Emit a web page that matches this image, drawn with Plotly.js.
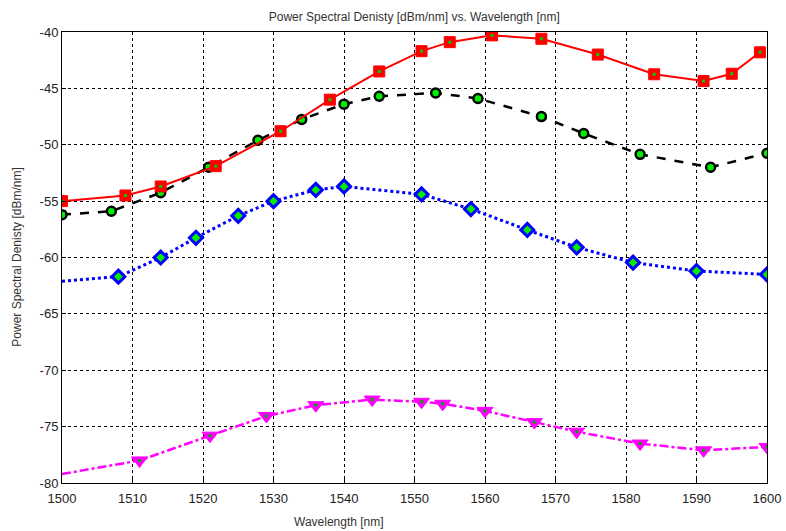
<!DOCTYPE html>
<html>
<head>
<meta charset="utf-8">
<script src="https://cdn.plot.ly/plotly-3.0.1.min.js"></script>
<style>html,body{margin:0;padding:0;background:#fff;}#chart{width:786px;height:531px;}</style>
</head>
<body>
<div id="chart"></div>
<script>
// Series: red squares (solid)
const redX = [1500, 1509, 1514, 1521.8, 1531, 1538, 1545, 1551, 1555, 1561, 1568, 1576, 1584, 1591, 1595, 1599];
const redY = [-55.0, -54.5, -53.7, -51.9, -48.8, -46.0, -43.5, -41.7, -40.9, -40.3, -40.6, -42.0, -43.75, -44.35, -43.7, -41.8];
// Series: black circles (dashed)
const blackX = [1500, 1507, 1514, 1520.8, 1527.8, 1534, 1540, 1545, 1553, 1559, 1568, 1574, 1582, 1592, 1600];
const blackY = [-56.2, -55.9, -54.25, -52.0, -49.6, -47.75, -46.4, -45.7, -45.4, -45.9, -47.5, -49.0, -50.85, -52.0, -50.75];
// Series: blue diamonds (dotted), first point drawn without marker
const blueX = [1500, 1508, 1514, 1519, 1525, 1530, 1536, 1540, 1551, 1558, 1566, 1573, 1581, 1590, 1600];
const blueY = [-62.1, -61.7, -60.0, -58.25, -56.3, -55.0, -54.0, -53.7, -54.4, -55.7, -57.55, -59.1, -60.45, -61.2, -61.5];
// Series: magenta triangles (dash-dot), first point drawn without marker
const magX = [1500, 1511, 1521, 1529, 1536, 1544, 1551, 1554, 1560, 1567, 1573, 1582, 1591, 1600];
const magY = [-79.2, -78.0, -75.8, -74.06, -73.1, -72.6, -72.8, -72.97, -73.6, -74.6, -75.45, -76.5, -77.1, -76.8];

const xTicks = [1500, 1510, 1520, 1530, 1540, 1550, 1560, 1570, 1580, 1590, 1600];
const yTicks = [-40, -45, -50, -55, -60, -65, -70, -75, -80];

function sizes(n, s, skipFirst) {
  return Array.from({length: n}, (_, i) => (skipFirst && i === 0) ? 0 : s);
}

const GREEN = '#00ee00';

const traces = [
  {x: blueX, y: blueY, type: 'scatter', mode: 'lines+markers',
   line: {color: '#0000ff', width: 3, dash: 'dot'},
   marker: {symbol: 'diamond', size: sizes(blueX.length, 10, true), color: GREEN, opacity: 1, line: {color: '#0000ff', width: 3}}},
  {x: magX, y: magY, type: 'scatter', mode: 'lines+markers',
   line: {color: '#ff00ff', width: 2.5, dash: 'dashdot'},
   marker: {symbol: 'triangle-down', size: sizes(magX.length, 14, true), color: '#ff00ff', opacity: 1, line: {color: '#ff00ff', width: 1}}},
  {x: blackX, y: blackY, type: 'scatter', mode: 'lines+markers',
   line: {color: '#000000', width: 2.5, dash: 'dash'},
   marker: {symbol: 'circle', size: sizes(blackX.length, 9, false), color: GREEN, opacity: 1, line: {color: '#000000', width: 2.5}}},
  {x: redX, y: redY, type: 'scatter', mode: 'lines+markers',
   line: {color: '#ff0000', width: 2},
   marker: {symbol: 'square', size: sizes(redX.length, 11, false), color: '#ff0000', opacity: 1, line: {color: '#ff0000', width: 1}}},
  {x: redX, y: redY, type: 'scatter', mode: 'markers', hoverinfo: 'skip',
   marker: {symbol: 'square', size: 3, color: '#00cc00', opacity: 1, line: {width: 0}}},
  {x: magX, y: magY, type: 'scatter', mode: 'markers', hoverinfo: 'skip',
   marker: {symbol: 'square', size: sizes(magX.length, 3, true), color: '#00aa00', opacity: 1, line: {width: 0}}}
];

const layout = {
  width: 786, height: 531,
  margin: {l: 62, r: 19, t: 32, b: 48, pad: 0},
  paper_bgcolor: '#ffffff', plot_bgcolor: '#ffffff',
  showlegend: false,
  font: {family: 'Liberation Sans, Arial, sans-serif', color: '#222', size: 13},
  title: {text: 'Power Spectral Denisty [dBm/nm] vs. Wavelength [nm]', x: 0.527, xanchor: 'center', y: 0.968, yanchor: 'middle',
          font: {size: 12, color: '#333'}},
  xaxis: {range: [1500, 1600], tickvals: xTicks, ticktext: xTicks.map(String),
          showgrid: true, gridcolor: '#000', griddash: 'dot', gridwidth: 1,
          showline: true, linecolor: '#000', linewidth: 1, mirror: true,
          ticks: 'inside', ticklen: 4, tickcolor: '#000', zeroline: false,
          ticklabelstandoff: 3,
          tickfont: {size: 13, color: '#222'}},
  yaxis: {range: [-80, -40], tickvals: yTicks, ticktext: yTicks.map(v => String(v)),
          showgrid: true, gridcolor: '#000', griddash: 'dot', gridwidth: 1,
          showline: true, linecolor: '#000', linewidth: 1, mirror: true,
          ticks: 'inside', ticklen: 4, tickcolor: '#000', zeroline: false,
          tickfont: {size: 13, color: '#222'}},
  annotations: [
    {text: 'Wavelength [nm]', xref: 'paper', yref: 'paper', x: 0.393, y: -0.087, xanchor: 'center', yanchor: 'middle',
     showarrow: false, font: {size: 12, color: '#333'}},
    {text: 'Power Spectral Denisty [dBm/nm]', xref: 'paper', yref: 'paper', x: -0.065, y: 0.5, xanchor: 'center', yanchor: 'middle',
     textangle: -90, showarrow: false, font: {size: 12, color: '#333'}}
  ]
};

Plotly.newPlot('chart', traces, layout, {displayModeBar: false, staticPlot: true});
</script>
</body>
</html>
